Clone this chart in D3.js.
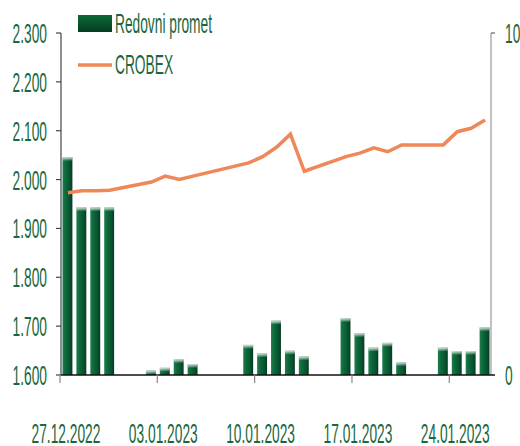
<!DOCTYPE html>
<html>
  <head>
    <meta charset="utf-8">
    <script type="text/javascript" src="https://cdnjs.cloudflare.com/ajax/libs/d3/7.8.5/d3.min.js"></script>
    <style>
      body { margin: 0; background: #ffffff; }
      text { font-family: "Liberation Sans", Arial, sans-serif; }
    </style>
  </head>
  <body>
    <script>

      // trading days
      var dates = ["27.12.2022", "28.12.2022", "29.12.2022", "30.12.2022",
                   "02.01.2023", "03.01.2023", "04.01.2023", "05.01.2023",
                   "09.01.2023", "10.01.2023", "11.01.2023", "12.01.2023", "13.01.2023",
                   "16.01.2023", "17.01.2023", "18.01.2023", "19.01.2023", "20.01.2023",
                   "23.01.2023", "24.01.2023", "25.01.2023", "26.01.2023"];

      // regular turnover (right axis)
      var promet = [6.37, 4.9, 4.9, 4.9,
                    0.13, 0.21, 0.46, 0.32,
                    0.88, 0.63, 1.59, 0.71, 0.54,
                    1.66, 1.22, 0.80, 0.94, 0.37,
                    0.80, 0.70, 0.70, 1.39];

      // CROBEX index (left axis)
      var crobex = [1973, 1977, 1977, 1978,
                    1995, 2007, 2000, 2007,
                    2034, 2047, 2066, 2093, 2017,
                    2047, 2054, 2065, 2057, 2071,
                    2071, 2098, 2105, 2122];

      var leftTicks = [1600, 1700, 1800, 1900, 2000, 2100, 2200, 2300];
      var rightTicks = [0, 10];
      var xTicks = ["27.12.2022", "03.01.2023", "10.01.2023", "17.01.2023", "24.01.2023"];

      var parse = d3.timeParse("%d.%m.%Y");
      var fmt = d3.format(",.0f");
      var locale = d3.formatLocale({decimal: ",", thousands: ".", grouping: [3], currency: ["", ""]});
      var fmtLeft = function(d) { return locale.format(",")(d) + ""; };

      var green = "#1b673d";
      var w = 520, h = 446;
      var margin = {top: 33, left: 61, right: 492, bottom: 375};

      var svg = d3.select("body")
          .append("svg")
          .attr("width", w)
          .attr("height", h);

      // gradients for bars
      var defs = svg.append("defs");
      var grad = defs.append("linearGradient")
          .attr("id", "barGrad")
          .attr("x1", "0%").attr("x2", "100%").attr("y1", "0%").attr("y2", "0%");
      grad.append("stop").attr("offset", "0%").attr("stop-color", "#1f7d4c");
      grad.append("stop").attr("offset", "30%").attr("stop-color", "#0e6a3a");
      grad.append("stop").attr("offset", "75%").attr("stop-color", "#075230");
      grad.append("stop").attr("offset", "100%").attr("stop-color", "#043a20");

      var topGrad = defs.append("linearGradient")
          .attr("id", "topGrad")
          .attr("x1", "0%").attr("x2", "0%").attr("y1", "0%").attr("y2", "100%");
      topGrad.append("stop").attr("offset", "0%").attr("stop-color", "#ffffff").attr("stop-opacity", 0.85);
      topGrad.append("stop").attr("offset", "100%").attr("stop-color", "#ffffff").attr("stop-opacity", 0);

      var legGrad = defs.append("linearGradient")
          .attr("id", "legGrad")
          .attr("x1", "0%").attr("x2", "0%").attr("y1", "0%").attr("y2", "100%");
      legGrad.append("stop").attr("offset", "0%").attr("stop-color", "#0d6a3a");
      legGrad.append("stop").attr("offset", "100%").attr("stop-color", "#053d20");

      // scales
      var x = d3.scaleTime()
          .domain([parse("27.12.2022"), parse("27.01.2023")])
          .range([margin.left, margin.right]);
      var slot = x(parse("28.12.2022")) - x(parse("27.12.2022"));

      var yLeft = d3.scaleLinear()
          .domain([1600, 2300])
          .range([margin.bottom, margin.top]);

      var yRight = d3.scaleLinear()
          .domain([0, 10])
          .range([margin.bottom, margin.top]);

      // squeezed text helper
      function label(g, tx, ty, str, anchor) {
        g.append("g")
          .attr("transform", "translate(" + tx + "," + ty + ")")
          .append("text")
          .attr("transform", "scale(0.5,1)")
          .attr("text-anchor", anchor)
          .style("font-size", "27.5px")
          .attr("fill", green)
          .text(str);
      }

      // bars
      var bars = svg.append("g");
      bars.selectAll(".bar")
          .data(promet)
          .enter()
          .append("rect")
          .attr("class", "bar")
          .attr("x", function(d, i) { return x(parse(dates[i])) + 1.5; })
          .attr("y", function(d) { return yRight(d); })
          .attr("width", slot - 4)
          .attr("height", function(d) { return yRight(0) - yRight(d); })
          .attr("fill", "url(#barGrad)");
      bars.selectAll(".cap")
          .data(promet)
          .enter()
          .append("rect")
          .attr("class", "cap")
          .attr("x", function(d, i) { return x(parse(dates[i])) + 1.5; })
          .attr("y", function(d) { return yRight(d); })
          .attr("width", slot - 4)
          .attr("height", function(d) { return Math.min(4, yRight(0) - yRight(d)); })
          .attr("fill", "url(#topGrad)");

      // left axis
      svg.append("line")
          .attr("x1", margin.left).attr("x2", margin.left)
          .attr("y1", margin.top).attr("y2", margin.bottom)
          .attr("stroke", "#444").attr("stroke-width", 1.2);
      svg.selectAll(".ltick")
          .data(leftTicks)
          .enter()
          .append("line")
          .attr("x1", margin.left - 5).attr("x2", margin.left)
          .attr("y1", function(d) { return yLeft(d); })
          .attr("y2", function(d) { return yLeft(d); })
          .attr("stroke", "#444").attr("stroke-width", 1.2);
      leftTicks.forEach(function(d) {
        label(svg, 47, yLeft(d) + 10, fmtLeft(d), "end");
      });

      // right axis
      svg.append("line")
          .attr("x1", margin.right - 1).attr("x2", margin.right - 1)
          .attr("y1", margin.top).attr("y2", margin.bottom)
          .attr("stroke", "#999").attr("stroke-width", 1.2);
      svg.append("line")
          .attr("x1", margin.right - 1).attr("x2", margin.right + 3)
          .attr("y1", margin.top).attr("y2", margin.top)
          .attr("stroke", "#666").attr("stroke-width", 1.2);
      rightTicks.forEach(function(d) {
        label(svg, 505, yRight(d) + 10, d, "start");
      });

      // x axis
      svg.append("line")
          .attr("x1", margin.left).attr("x2", margin.right + 3)
          .attr("y1", margin.bottom).attr("y2", margin.bottom)
          .attr("stroke", "#111").attr("stroke-width", 1.5);
      svg.selectAll(".xtick")
          .data(xTicks)
          .enter()
          .append("line")
          .attr("x1", function(d) { return x(parse(d)) - 1; })
          .attr("x2", function(d) { return x(parse(d)) - 1; })
          .attr("y1", margin.bottom).attr("y2", margin.bottom + 8)
          .attr("stroke", "#888").attr("stroke-width", 1.2);
      xTicks.forEach(function(d) {
        label(svg, x(parse(d)) + slot / 2 - 2, 443, d, "middle");
      });

      // CROBEX line
      var line = d3.line()
          .x(function(d, i) { return x(parse(dates[i])) + slot / 2; })
          .y(function(d) { return yLeft(d); });
      svg.append("path")
          .datum(crobex)
          .attr("d", line)
          .attr("fill", "none")
          .attr("stroke", "#ef8759")
          .attr("stroke-width", 3.5)
          .attr("stroke-linejoin", "miter");

      // legend
      svg.append("rect")
          .attr("x", 78).attr("y", 15)
          .attr("width", 34).attr("height", 17)
          .attr("fill", "url(#legGrad)");
      label(svg, 115, 33, "Redovni promet", "start");
      svg.append("line")
          .attr("x1", 78).attr("x2", 112)
          .attr("y1", 65).attr("y2", 65)
          .attr("stroke", "#ef8759").attr("stroke-width", 3.5);
      label(svg, 115, 74, "CROBEX", "start");

    </script>
  </body>
</html>
